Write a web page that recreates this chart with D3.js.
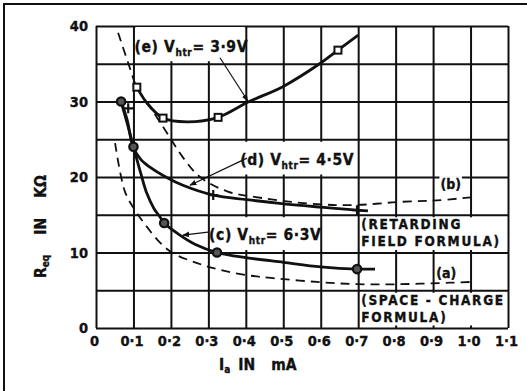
<html>
  <head>
    <meta charset="utf-8">
    <title>Req vs Ia</title>
    <script src="https://cdn.jsdelivr.net/npm/d3@7"></script>
  </head>
<style>
  body { margin:0; background:#fff; }
  text { font-family: "DejaVu Sans Condensed", "Liberation Sans Narrow", "DejaVu Sans", sans-serif; font-weight:bold; fill:#111; stroke:#111; stroke-width:0.35; }
</style>
  <body>
    <script>
    // axis ticks
    var xTickVals = [0, 0.1, 0.2, 0.3, 0.4, 0.5, 0.6, 0.7, 0.8, 0.9, 1.0, 1.1];
    var xTickLabels = ["0", "0·1", "0·2", "0·3", "0·4", "0·5", "0·6", "0·7", "0·8", "0·9", "1·0", "1·1"];
    var yGridVals = [0, 5, 10, 15, 20, 25, 30, 35, 40];
    var yTickLabels = ["0", "", "10", "", "20", "", "30", "", "40"];

    // (e) Vhtr = 3.9V  (squares)
    var eX = [0.109, 0.136, 0.179, 0.243, 0.326, 0.405, 0.5, 0.6, 0.646, 0.70];
    var eY = [31.9, 29.8, 27.8, 27.3, 27.9, 29.9, 32.0, 35.1, 36.8, 38.8];
    var eMarkX = [0.109, 0.179, 0.326, 0.646];
    var eMarkY = [31.9, 27.8, 27.9, 36.8];

    // (d) Vhtr = 4.5V  (crosses)
    var dX = [0.067, 0.083, 0.099, 0.12, 0.144, 0.19, 0.232, 0.313, 0.403, 0.49, 0.6, 0.697, 0.726];
    var dY = [30.0, 27.6, 24.0, 22.3, 21.3, 19.9, 18.9, 17.6, 17.0, 16.5, 16.0, 15.6, 15.5];
    var dMarkX = [0.086, 0.313, 0.697];
    var dMarkY = [29.1, 17.6, 15.6];

    // (c) Vhtr = 6.3V  (circles)
    var cX = [0.067, 0.085, 0.1, 0.12, 0.136, 0.155, 0.171, 0.182, 0.224, 0.264, 0.323, 0.403, 0.5, 0.6, 0.697, 0.745];
    var cY = [30.0, 26.8, 24.0, 20.4, 17.8, 15.8, 14.7, 13.9, 12.3, 11.1, 10.0, 9.3, 8.7, 8.1, 7.8, 7.8];
    var cMarkX = [0.067, 0.1, 0.182, 0.323, 0.697];
    var cMarkY = [30.0, 24.0, 13.9, 10.0, 7.8];

    // (b) retarding field formula (dashed)
    var bX = [0.059, 0.086, 0.109, 0.144, 0.19, 0.232, 0.278, 0.35, 0.446, 0.59, 0.697, 0.81, 0.91, 1.0];
    var bY = [39.1, 35.1, 31.9, 29.3, 25.8, 22.6, 20.0, 18.1, 17.2, 16.4, 16.3, 16.7, 16.9, 17.3];

    // (a) space-charge formula (dashed)
    var aX = [0.051, 0.077, 0.104, 0.136, 0.171, 0.206, 0.27, 0.331, 0.403, 0.473, 0.59, 0.697, 0.81, 0.945, 1.0];
    var aY = [24.5, 18.1, 15.6, 13.4, 11.3, 9.9, 8.6, 7.7, 7.0, 6.6, 6.1, 5.8, 5.8, 6.0, 6.1];

    var width = 527, height = 391;

    var svg = d3.select("body").append("svg")
        .attr("width", width)
        .attr("height", height);

    var x = d3.scaleLinear().domain([0, 1.1]).range([96, 508]);
    var y = d3.scaleLinear().domain([0, 40]).range([328, 26]);

    svg.append("defs").append("marker")
        .attr("id", "arr")
        .attr("viewBox", "0 0 10 10")
        .attr("refX", 9).attr("refY", 5)
        .attr("markerWidth", 7).attr("markerHeight", 7)
        .attr("markerUnits", "userSpaceOnUse")
        .attr("orient", "auto")
      .append("path")
        .attr("d", "M0,1 L10,5 L0,9 z")
        .attr("fill", "#111");

    // outer frame
    svg.append("path")
        .attr("d", "M4,391 L4,4 L527,4")
        .attr("fill", "none").attr("stroke", "#111").attr("stroke-width", 2);

    // grid via axes
    var xAxis = svg.append("g")
        .attr("transform", "translate(0," + y(0) + ")")
        .call(d3.axisBottom(x).tickValues(xTickVals)
            .tickSize(-(y(0) - y(40)))
            .tickPadding(8)
            .tickFormat(function(d, i){ return xTickLabels[i]; }));

    var yAxis = svg.append("g")
        .attr("transform", "translate(" + x(0) + ",0)")
        .call(d3.axisLeft(y).tickValues(yGridVals)
            .tickSize(-(x(1.1) - x(0)))
            .tickPadding(8)
            .tickFormat(function(d, i){ return yTickLabels[i]; }));

    svg.selectAll(".domain").remove();
    svg.selectAll(".tick line").attr("stroke", "#111").attr("stroke-width", 2);
    svg.selectAll(".tick text").attr("font-size", 14.5).attr("fill", "#111")
        .attr("font-family", null);
    xAxis.selectAll(".tick text").attr("dx", -2);

    // white label boxes over the grid
    var boxes = [[0.103, 35.2, 0.4, 40], [0.38, 20.2, 0.698, 24.8], [0.303, 10.2, 0.597, 14.8],
                 [0.703, 10.2, 1.1, 14.8], [0.703, 0.2, 1.1, 4.8]];
    svg.selectAll("rect.box").data(boxes).enter().append("rect")
        .attr("class", "box")
        .attr("x", function(d){ return x(d[0]) + 1; })
        .attr("y", function(d){ return y(d[3]) + 1; })
        .attr("width", function(d){ return x(d[2]) - x(d[0]) - 2; })
        .attr("height", function(d){ return y(d[1]) - y(d[3]) - 2; })
        .attr("fill", "#fff");

    function pts(xs, ys){ return xs.map(function(v, i){ return [v, ys[i]]; }); }

    var line = d3.line()
        .x(function(d){ return x(d[0]); })
        .y(function(d){ return y(d[1]); })
        .curve(d3.curveCatmullRom.alpha(0.5));

    // dashed formula curves
    [pts(bX, bY), pts(aX, aY)].forEach(function(p){
      svg.append("path").attr("d", line(p))
          .attr("fill", "none").attr("stroke", "#111")
          .attr("stroke-width", 1.8).attr("stroke-dasharray", "9,6");
    });

    // measured curves
    [pts(eX, eY), pts(dX, dY), pts(cX, cY)].forEach(function(p){
      svg.append("path").attr("d", line(p))
          .attr("fill", "none").attr("stroke", "#111")
          .attr("stroke-width", 2.8);
    });

    svg.selectAll("rect.sq").data(pts(eMarkX, eMarkY)).enter().append("rect")
        .attr("x", function(d){ return x(d[0]) - 3.5; })
        .attr("y", function(d){ return y(d[1]) - 3.5; })
        .attr("width", 7).attr("height", 7)
        .attr("fill", "#fff").attr("stroke", "#111").attr("stroke-width", 2);

    svg.selectAll("circle.c").data(pts(cMarkX, cMarkY)).enter().append("circle")
        .attr("cx", function(d){ return x(d[0]); })
        .attr("cy", function(d){ return y(d[1]); })
        .attr("r", 4.2)
        .attr("fill", "#555").attr("stroke", "#111").attr("stroke-width", 2.2);

    svg.selectAll("path.plus").data(pts(dMarkX, dMarkY)).enter().append("path")
        .attr("d", function(d){
          var px = x(d[0]), py = y(d[1]);
          return "M" + (px - 5) + "," + py + "H" + (px + 5) + "M" + px + "," + (py - 5) + "V" + (py + 5);
        })
        .attr("stroke", "#111").attr("stroke-width", 2.2);

    // arrows
    var arrows = [[0.331, 35.8, 0.405, 30.1], [0.403, 22.5, 0.251, 18.9], [0.299, 12.7, 0.232, 12.3]];
    svg.selectAll("line.arr").data(arrows).enter().append("line")
        .attr("x1", function(d){ return x(d[0]); })
        .attr("y1", function(d){ return y(d[1]); })
        .attr("x2", function(d){ return x(d[2]); })
        .attr("y2", function(d){ return y(d[3]); })
        .attr("stroke", "#111").attr("stroke-width", 1.2)
        .attr("marker-end", "url(#arr)");

    // curve labels with V_htr
    function vLabel(px, py, pre, post){
      var t = svg.append("text").attr("x", x(px)).attr("y", y(py))
          .attr("font-size", 15.5).attr("letter-spacing", 0.6);
      t.append("tspan").text(pre + " V");
      t.append("tspan").attr("font-size", 10).attr("dy", 4).text("htr");
      t.append("tspan").attr("dy", -4).text(post);
    }
    vLabel(0.103, 36.6, "(e)", "= 3·9V");
    vLabel(0.385, 21.6, "(d)", "= 4·5V");
    vLabel(0.302, 11.6, "(c)", "= 6·3V");

    var notes = [[0.708, 13.1, "(RETARDING"], [0.708, 10.8, "FIELD  FORMULA)"],
                 [0.708, 3.1, "(SPACE - CHARGE"], [0.708, 0.8, "FORMULA)"]];
    svg.selectAll("text.note").data(notes).enter().append("text")
        .attr("x", function(d){ return x(d[0]); })
        .attr("y", function(d){ return y(d[1]); })
        .attr("font-size", 13.5).attr("letter-spacing", 1.7)
        .text(function(d){ return d[2]; });

    [[0.947, 18.4, "(b)"], [0.935, 6.6, "(a)"]].forEach(function(d){
      var t = svg.append("text").attr("x", x(d[0])).attr("y", y(d[1]))
          .attr("text-anchor", "middle").attr("font-size", 14).text(d[2]);
      var bb = t.node().getBBox();
      svg.insert("rect", function(){ return t.node(); })
          .attr("x", bb.x - 1).attr("y", bb.y).attr("width", bb.width + 2).attr("height", bb.height)
          .attr("fill", "#fff");
    });

    // axis titles
    var xt = svg.append("text").attr("x", 219).attr("y", 370).attr("font-size", 15.5);
    xt.append("tspan").text("I");
    xt.append("tspan").attr("font-size", 10).attr("dy", 3).text("a");
    xt.append("tspan").attr("dy", -3).attr("dx", 8).text("IN");
    xt.append("tspan").attr("dx", 16).text("mA");

    var yt = svg.append("text").attr("transform", "translate(46,278) rotate(-90)")
        .attr("font-size", 15.5);
    yt.append("tspan").text("R");
    yt.append("tspan").attr("font-size", 10).attr("dy", 3).text("eq");
    yt.append("tspan").attr("dy", -3).attr("dx", 20).text("IN");
    yt.append("tspan").attr("dx", 20).text("KΩ");
    </script>
  </body>
</html>
